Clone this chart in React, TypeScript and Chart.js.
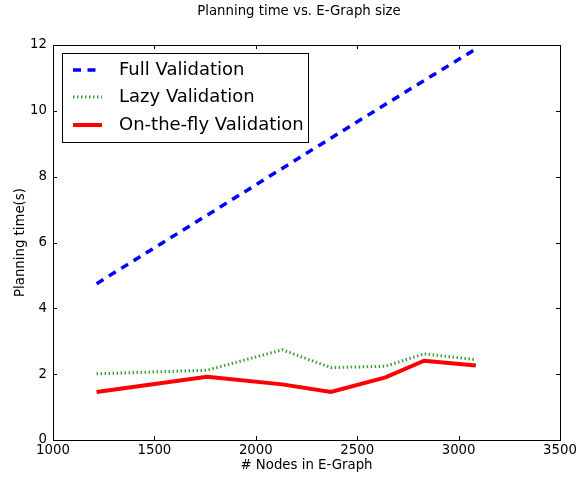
import React, { useEffect, useRef } from "react";
import { Chart, registerables } from "chart.js";

Chart.register(...registerables);

const nodes = [1215, 1760, 2130, 2370, 2640, 2830, 3085];
const fullValidation = [4.75, 6.83, 8.25, 9.17, 10.2, 10.92, 11.88];
const lazyValidation = [2.01, 2.12, 2.74, 2.2, 2.24, 2.62, 2.44];
const onTheFlyValidation = [1.46, 1.92, 1.69, 1.46, 1.9, 2.41, 2.26];
const seriesNames = ["Full Validation", "Lazy Validation", "On-the-fly Validation"];
const xTicks = [1000, 1500, 2000, 2500, 3000, 3500];
const yTicks = [0, 2, 4, 6, 8, 10, 12];
const titleText = "Planning time vs. E-Graph size";
const xTitle = "# Nodes in E-Graph";
const yTitle = "Planning time(s)";

const FONT = "'DejaVu Sans', sans-serif";
const FS = 13.3;

const toPoints = (ys: number[]) => nodes.map((x, i) => ({ x, y: ys[i] }));

const decorPlugin = {
  id: "mplDecor",
  afterDraw(chart: any) {
    const { ctx, chartArea } = chart;
    const { left, right, top, bottom } = chartArea;
    const xs = chart.scales.x;
    const ys = chart.scales.y;
    ctx.save();
    ctx.strokeStyle = "#000";
    ctx.lineWidth = 1;
    ctx.strokeRect(Math.round(left) + 0.5, Math.round(top) + 0.5, Math.round(right - left), Math.round(bottom - top));
    const tl = 4;
    ctx.beginPath();
    xTicks.forEach((v) => {
      const px = Math.round(xs.getPixelForValue(v)) + 0.5;
      ctx.moveTo(px, bottom);
      ctx.lineTo(px, bottom - tl);
      ctx.moveTo(px, top);
      ctx.lineTo(px, top + tl);
    });
    yTicks.forEach((v) => {
      const py = Math.round(ys.getPixelForValue(v)) + 0.5;
      ctx.moveTo(left, py);
      ctx.lineTo(left + tl, py);
      ctx.moveTo(right, py);
      ctx.lineTo(right - tl, py);
    });
    ctx.stroke();

    ctx.fillStyle = "#000";
    ctx.font = `${FS}px ${FONT}`;
    ctx.textAlign = "center";
    ctx.textBaseline = "middle";
    ctx.fillText(titleText, 299, 12);
    ctx.fillText(xTitle, (left + right) / 2, 466);
    ctx.save();
    ctx.translate(21, (top + bottom) / 2);
    ctx.rotate(-Math.PI / 2);
    ctx.fillText(yTitle, 0, 0);
    ctx.restore();

    const bx = 62.5, by = 53.5, bw = 246, bh = 89;
    ctx.fillStyle = "#fff";
    ctx.fillRect(bx, by, bw, bh);
    ctx.strokeStyle = "#000";
    ctx.lineWidth = 1;
    ctx.strokeRect(bx, by, bw, bh);
    const rowsY = [70, 97, 125];
    chart.data.datasets.forEach((ds: any, i: number) => {
      const y = rowsY[i];
      ctx.save();
      ctx.strokeStyle = ds.borderColor;
      ctx.lineWidth = ds.borderWidth;
      ctx.setLineDash(ds.borderDash || []);
      ctx.lineCap = "butt";
      ctx.beginPath();
      ctx.moveTo(73, y);
      ctx.lineTo(102, y);
      ctx.stroke();
      ctx.restore();
      ctx.fillStyle = "#000";
      ctx.font = `18px ${FONT}`;
      ctx.textAlign = "left";
      ctx.textBaseline = "middle";
      ctx.fillText(ds.label, 119, y);
    });
    ctx.restore();
  },
};

export default function App() {
  const ref = useRef<HTMLCanvasElement | null>(null);
  useEffect(() => {
    if (!ref.current) return;
    const chart = new Chart(ref.current, {
      type: "line",
      data: {
        datasets: [
          {
            label: seriesNames[0],
            data: toPoints(fullValidation),
            borderColor: "#0000ff",
            borderWidth: 3.5,
            borderDash: [8, 6.5],
            pointRadius: 0,
            fill: false,
            tension: 0,
          },
          {
            label: seriesNames[1],
            data: toPoints(lazyValidation),
            borderColor: "#3c9e3c",
            borderWidth: 3,
            borderDash: [1.5, 2.5],
            pointRadius: 0,
            fill: false,
            tension: 0,
          },
          {
            label: seriesNames[2],
            data: toPoints(onTheFlyValidation),
            borderColor: "#ff0000",
            borderWidth: 4,
            pointRadius: 0,
            fill: false,
            tension: 0,
          },
        ],
      },
      options: {
        animation: false,
        responsive: false,
        events: [],
        layout: { padding: { top: 45, right: 28, left: 0, bottom: 0 } },
        plugins: {
          legend: { display: false },
          title: { display: false },
          tooltip: { enabled: false },
        },
        scales: {
          x: {
            type: "linear",
            min: 1000,
            max: 3500,
            afterFit: (s: any) => {
              s.height = 37;
            },
            afterBuildTicks: (s: any) => {
              s.ticks = xTicks.map((v) => ({ value: v }));
            },
            grid: { display: false, drawTicks: false },
            border: { display: false },
            ticks: {
              padding: 3,
              color: "#000",
              font: { family: FONT, size: FS },
              maxRotation: 0,
              autoSkip: false,
              callback: (v: any) => String(v),
            },
          },
          y: {
            type: "linear",
            min: 0,
            max: 12,
            afterFit: (s: any) => {
              s.width = 53;
            },
            afterBuildTicks: (s: any) => {
              s.ticks = yTicks.map((v) => ({ value: v }));
            },
            grid: { display: false, drawTicks: false },
            border: { display: false },
            ticks: {
              padding: 6,
              color: "#000",
              font: { family: FONT, size: FS },
              autoSkip: false,
              callback: (v: any) => String(v),
            },
          },
        },
      },
      plugins: [decorPlugin],
    });
    return () => chart.destroy();
  }, []);
  return (
    <div style={{ position: "fixed", left: 0, top: 0, width: 588, height: 477, background: "#fff" }}>
      <canvas ref={ref} width={588} height={477} style={{ width: 588, height: 477, display: "block" }} />
    </div>
  );
}
